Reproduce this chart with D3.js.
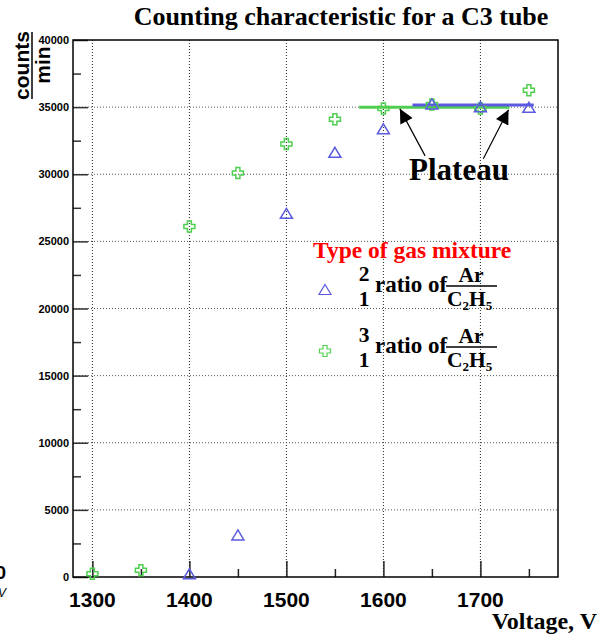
<!DOCTYPE html>
<html><head><meta charset="utf-8">
<script src="https://cdn.jsdelivr.net/npm/d3@7"></script>
<style>body{margin:0;background:#fff}svg{display:block}</style>
</head><body>
<script>
// ---- data ----
const voltage21 = [1400, 1450, 1500, 1550, 1600, 1650, 1700, 1750];
const counts21  = [200, 3100, 27050, 31600, 33350, 35200, 35000, 34950];
const voltage31 = [1300, 1350, 1400, 1450, 1500, 1550, 1600, 1650, 1700, 1750];
const counts31  = [250, 500, 26100, 30100, 32250, 34100, 34900, 35200, 34900, 36250];
const plateau21X = [1630, 1755], plateau21Y = [35150, 35150];
const plateau31X = [1575, 1730], plateau31Y = [35000, 35000];
const xTicks = [1300, 1400, 1500, 1600, 1700];
const yTicks = [0, 5000, 10000, 15000, 20000, 25000, 30000, 35000, 40000];
const arrowTips  = [[1617, 34870], [1729, 34800]];
const arrowTails = [[1643, 31370], [1703, 31150]];

const W = 608, H = 639;
const blue = "#5b5be0", green = "#4fcf4f";
const svg = d3.select("body").append("svg").attr("width", W).attr("height", H)
  .style("font-family", "Liberation Sans, Arial, sans-serif");

const x = d3.scaleLinear().domain([1280, 1780]).range([73, 558]);
const y = d3.scaleLinear().domain([0, 40000]).range([577, 40]);

// grid
const grid = svg.append("g");
grid.selectAll("line.gx").data(xTicks).join("line")
  .attr("x1", d => x(d)).attr("x2", d => x(d)).attr("y1", y(40000)).attr("y2", y(0))
  .attr("stroke", "#222").attr("stroke-width", 1).attr("stroke-dasharray", "1,2");
grid.selectAll("line.gy").data(yTicks.filter(d => d > 0 && d < 40000)).join("line")
  .attr("x1", x(1280)).attr("x2", x(1780)).attr("y1", d => y(d)).attr("y2", d => y(d))
  .attr("stroke", "#555").attr("stroke-width", 1).attr("stroke-dasharray", "1,2");

// axes
const xAxis = d3.axisBottom(x).tickValues(d3.range(1300, 1780, 50)).tickSize(0).tickFormat("");
const gx = svg.append("g").attr("transform", `translate(0,${y(0)})`).call(xAxis);
gx.select(".domain").remove();
gx.selectAll(".tick line").remove();
gx.selectAll(".tick").append("line")
  .attr("y1", 0).attr("y2", d => d % 100 === 0 ? -16 : -8)
  .attr("stroke", "#222").attr("stroke-width", 1.5);
svg.append("g").selectAll("text").data(xTicks).join("text")
  .attr("x", d => x(d)).attr("y", 607).attr("text-anchor", "middle")
  .attr("font-weight", "bold").attr("font-size", 21).text(d => d);

const yAxis = d3.axisLeft(y).tickValues(d3.range(0, 40001, 2500)).tickSize(0).tickFormat("");
const gy = svg.append("g").attr("transform", `translate(${x(1280)},0)`).call(yAxis);
gy.select(".domain").remove();
gy.selectAll(".tick line").remove();
gy.selectAll(".tick").append("line")
  .attr("x1", 0).attr("x2", d => d % 5000 === 0 ? 15 : 8)
  .attr("stroke", "#333").attr("stroke-width", 1.5);
svg.append("g").selectAll("text").data(yTicks).join("text")
  .attr("x", 69).attr("y", d => y(d) + 4).attr("text-anchor", "end")
  .attr("font-weight", "bold").attr("font-size", 11).text(d => d);

// frame
svg.append("rect").attr("x", x(1280)).attr("y", y(40000))
  .attr("width", x(1780) - x(1280)).attr("height", y(0) - y(40000))
  .attr("fill", "none").attr("stroke", "#000").attr("stroke-width", 1.5);

// plateau lines
const line = d3.line().x(d => x(d[0])).y(d => y(d[1]));
svg.append("path").datum(d3.zip(plateau31X, plateau31Y)).attr("d", line)
  .attr("stroke", green).attr("stroke-width", 3).attr("fill", "none");
svg.append("path").datum(d3.zip(plateau21X, plateau21Y)).attr("d", line)
  .attr("stroke", blue).attr("stroke-width", 3).attr("fill", "none");

// markers
const tri = "M0,-5.5L6,4.5L-6,4.5Z";
const a = 2, b = 5.5;
const cross = `M${-a},${-b}L${a},${-b}L${a},${-a}L${b},${-a}L${b},${a}L${a},${a}L${a},${b}L${-a},${b}L${-a},${a}L${-b},${a}L${-b},${-a}L${-a},${-a}Z`;
svg.append("g").selectAll("path").data(d3.zip(voltage31, counts31)).join("path")
  .attr("transform", d => `translate(${x(d[0])},${y(d[1])})`).attr("d", cross)
  .attr("fill", "none").attr("stroke", green).attr("stroke-width", 1.5);
svg.append("g").selectAll("path").data(d3.zip(voltage21, counts21)).join("path")
  .attr("transform", d => `translate(${x(d[0])},${y(d[1])})`).attr("d", tri)
  .attr("fill", "none").attr("stroke", blue).attr("stroke-width", 1.5);

// arrows
svg.append("defs").append("marker").attr("id", "ah").attr("viewBox", "0 0 10 10")
  .attr("refX", 10).attr("refY", 5).attr("markerWidth", 16).attr("markerHeight", 14)
  .attr("markerUnits", "userSpaceOnUse").attr("orient", "auto")
  .append("path").attr("d", "M0,0L10,5L0,10Z").attr("fill", "#000");
svg.append("g").selectAll("line").data(d3.range(arrowTips.length)).join("line")
  .attr("x1", i => x(arrowTails[i][0])).attr("y1", i => y(arrowTails[i][1]))
  .attr("x2", i => x(arrowTips[i][0])).attr("y2", i => y(arrowTips[i][1]))
  .attr("stroke", "#000").attr("stroke-width", 1.2).attr("marker-end", "url(#ah)");

const serif = "Liberation Serif, Times New Roman, serif";
svg.append("text").attr("x", 459).attr("y", 180).attr("text-anchor", "middle")
  .attr("font-family", serif).attr("font-weight", "bold").attr("font-size", 31).text("Plateau");

// title
svg.append("text").attr("x", 341).attr("y", 25).attr("text-anchor", "middle")
  .attr("font-family", serif).attr("font-weight", "bold").attr("font-size", 26)
  .text("Counting characteristic for a C3 tube");

// axis titles
svg.append("text").attr("x", 597).attr("y", 629).attr("text-anchor", "end")
  .attr("font-family", serif).attr("font-weight", "bold").attr("font-size", 24).text("Voltage, V");
const yl = svg.append("g");
yl.append("text").attr("transform", "translate(29,65.5) rotate(-90)").attr("text-anchor", "middle")
  .attr("font-weight", "bold").attr("font-size", 21).text("counts");
yl.append("line").attr("x1", 32).attr("x2", 32).attr("y1", 32).attr("y2", 99)
  .attr("stroke", "#000").attr("stroke-width", 1.5);
yl.append("text").attr("transform", "translate(50,65) rotate(-90)").attr("text-anchor", "middle")
  .attr("font-weight", "bold").attr("font-size", 21).text("min");

// stray fragment bottom-left
svg.append("text").attr("x", 6).attr("y", 579).attr("text-anchor", "end")
  .attr("font-weight", "bold").attr("font-size", 19).text("0");
svg.append("text").attr("x", 6).attr("y", 597).attr("text-anchor", "end")
  .attr("font-style", "italic").attr("font-size", 12).text("V");

// legend
const lg = svg.append("g").attr("font-family", serif).attr("font-weight", "bold");
lg.append("text").attr("x", 313).attr("y", 257.5).attr("fill", "#ff0000").attr("font-size", 23.5)
  .text("Type of gas mixture");
const entries = [{num: "2", y: 290, sym: tri, col: blue}, {num: "3", y: 351, sym: cross, col: green}];
entries.forEach(e => {
  lg.append("path").attr("transform", `translate(325,${e.y})`).attr("d", e.sym)
    .attr("fill", "none").attr("stroke", e.col).attr("stroke-width", 1.2);
  lg.append("text").attr("x", 364).attr("y", e.y - 9).attr("text-anchor", "middle").attr("font-size", 21.5).text(e.num);
  lg.append("text").attr("x", 364).attr("y", e.y + 15.5).attr("text-anchor", "middle").attr("font-size", 21.5).text("1");
  lg.append("text").attr("x", 375).attr("y", e.y + 2).attr("font-size", 23).text("ratio of");
  lg.append("text").attr("x", 471).attr("y", e.y - 8).attr("text-anchor", "middle").attr("font-size", 21.5).text("Ar");
  lg.append("line").attr("x1", 446).attr("x2", 497).attr("y1", e.y - 4).attr("y2", e.y - 4)
    .attr("stroke", "#000").attr("stroke-width", 1.5);
  const t = lg.append("text").attr("x", 447).attr("y", e.y + 15.5).attr("font-size", 21.5);
  t.append("tspan").text("C");
  t.append("tspan").attr("font-size", 13).attr("dy", 4).text("2");
  t.append("tspan").attr("dy", -4).text("H");
  t.append("tspan").attr("font-size", 13).attr("dy", 4).text("5");
});
</script>
</body></html>
